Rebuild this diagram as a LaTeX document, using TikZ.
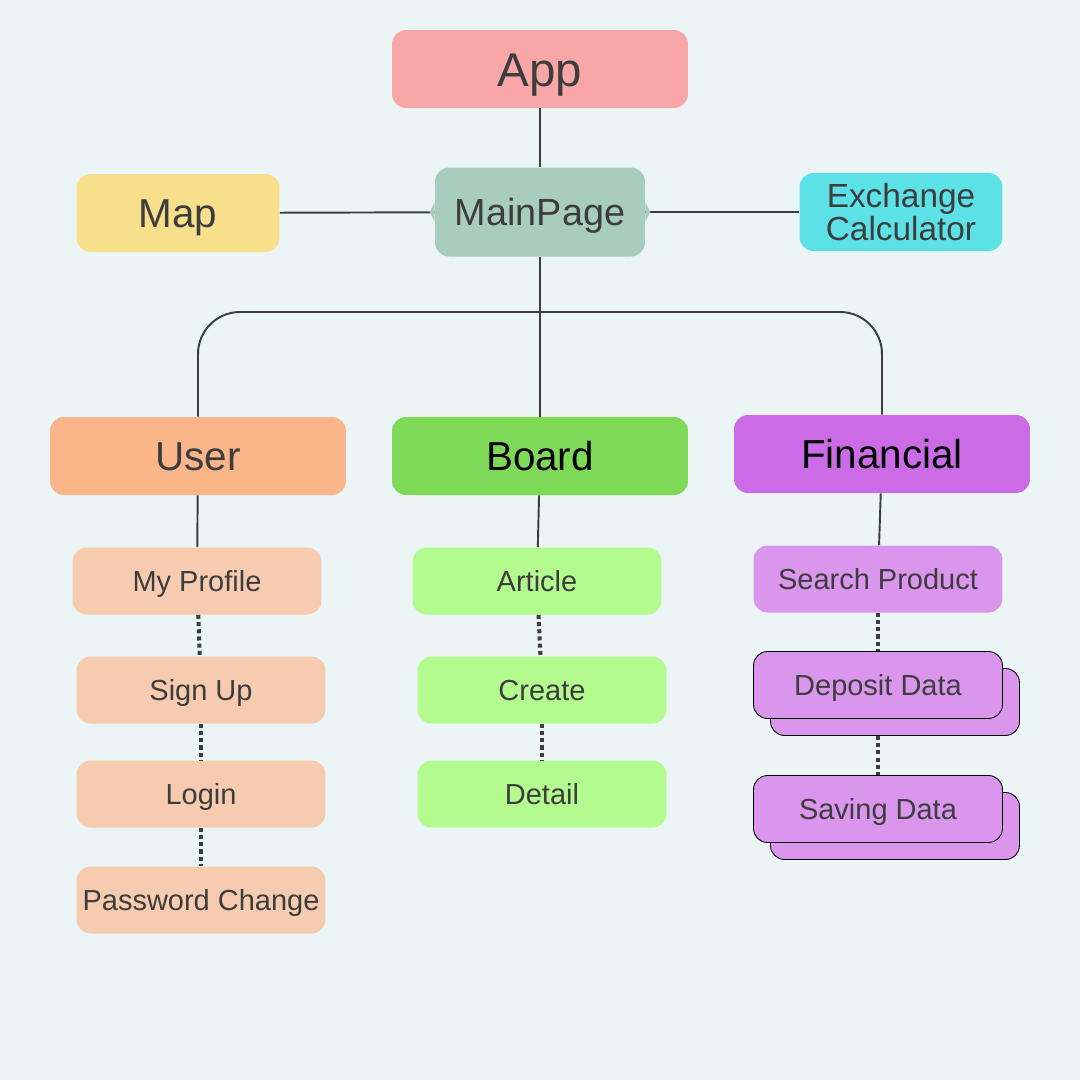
\documentclass[tikz,border=0pt]{standalone}
\usepackage{fontspec}
\setmainfont{Liberation Sans}
\usetikzlibrary{shadows}

\definecolor{bg}{HTML}{ECF5F6}
\definecolor{txt}{HTML}{3D3D3D}
\definecolor{line}{HTML}{3D3D3D}
\definecolor{appc}{HTML}{F9A6A6}
\definecolor{mainc}{HTML}{A8CCBE}
\definecolor{mapc}{HTML}{F8DF8B}
\definecolor{exchc}{HTML}{5CE1E6}
\definecolor{userc}{HTML}{FAB589}
\definecolor{boardc}{HTML}{7ED957}
\definecolor{finc}{HTML}{CB6CE6}
\definecolor{userl}{HTML}{F6CBAF}
\definecolor{boardl}{HTML}{B4FB8F}
\definecolor{finl}{HTML}{DA96ED}

\tikzset{
  box/.style={rounded corners=0.28cm, text=txt, inner sep=0pt, align=center},
  caps/.style={text height=#1, text depth=0pt},
  big/.style={box, caps=16.5pt, minimum width=5.92cm, minimum height=1.56cm, font=\fontsize{23}{23}\selectfont},
  mid/.style={box, minimum width=4.06cm, minimum height=1.56cm, font=\fontsize{23}{23}\selectfont},
  small/.style={box, caps=11.9pt, minimum width=4.98cm, minimum height=1.34cm, font=\fontsize{16.5}{16.5}\selectfont},
  stack/.style={small, draw=black, line width=0.5pt, copy shadow={shadow xshift=0.34cm, shadow yshift=-0.34cm}},
  link/.style={draw=line, line width=1.1pt},
  dots/.style={draw=line, line width=2.3pt, dash pattern=on 2.3pt off 1.8pt}
}

\begin{document}
\begin{tikzpicture}[x=0.02cm,y=-0.02cm]
\path[fill=bg] (0,0) rectangle (1080,1080);

% top level
\node[big, caps=19.4pt, fill=appc, font=\fontsize{27}{27}\selectfont] (App) at (540,69) {App};
\node[box, caps=15.5pt, fill=mainc, minimum width=4.2cm, minimum height=1.78cm, font=\fontsize{21.5}{21.5}\selectfont] (MainPage) at (540,212) {MainPage};
\node[mid, caps=16.5pt, fill=mapc] (Map) at (178,213) {Map};
\node[mid, fill=exchc, font=\fontsize{19}{18.7}\selectfont] (Exchange) at (901,212) {Exchange\\Calculator};

% sections
\node[big, fill=userc] (User) at (198,456) {User};
\node[big, fill=boardc, text=black] (Board) at (540,456) {Board};
\node[big, fill=finc, text=black] (Financial) at (882,454) {Financial};

% user pages
\node[small, fill=userl] (MyProfile) at (197,581) {My Profile};
\node[small, fill=userl] (SignUp) at (201,690) {Sign Up};
\node[small, fill=userl] (Login) at (201,794) {Login};
\node[small, fill=userl] (Password) at (201,900) {Password Change};

% board pages
\node[small, fill=boardl] (Article) at (537,581) {Article};
\node[small, fill=boardl] (Create) at (542,690) {Create};
\node[small, fill=boardl] (Detail) at (542,794) {Detail};

% financial pages
\node[small, fill=finl] (Search) at (878,579) {Search Product};
\node[stack, fill=finl] (Deposit) at (878,685) {Deposit Data};
\node[stack, fill=finl] (Saving) at (878,809) {Saving Data};

\coordinate (bus) at (540,312);

\path[link] (App) -- (MainPage);
\path[link] (Map) -- (MainPage);
\path[link] (MainPage) -- (Exchange);
\path[link] (MainPage) -- (Board);
\path[link, rounded corners=0.84cm] (User.north) |- (bus) -| (Financial.north);
\path[link] (User) -- (MyProfile);
\path[link] (Board) -- (Article);
\path[link] (Financial) -- (Search);

\path[dots] (MyProfile) -- (SignUp);
\path[dots] (SignUp) -- (Login);
\path[dots] (Login) -- (Password);
\path[dots] (Article) -- (Create);
\path[dots] (Create) -- (Detail);
\path[dots] (Search) -- (Deposit);
\path[dots, shorten <=0.34cm] (Deposit) -- (Saving);

% notches on MainPage
\fill[mainc] ([yshift=0.2cm]MainPage.west) -- ++(-0.1cm,-0.2cm) -- ++(0.1cm,-0.2cm) -- cycle;
\fill[mainc] ([yshift=0.2cm]MainPage.east) -- ++(0.1cm,-0.2cm) -- ++(-0.1cm,-0.2cm) -- cycle;
\end{tikzpicture}
\end{document}
